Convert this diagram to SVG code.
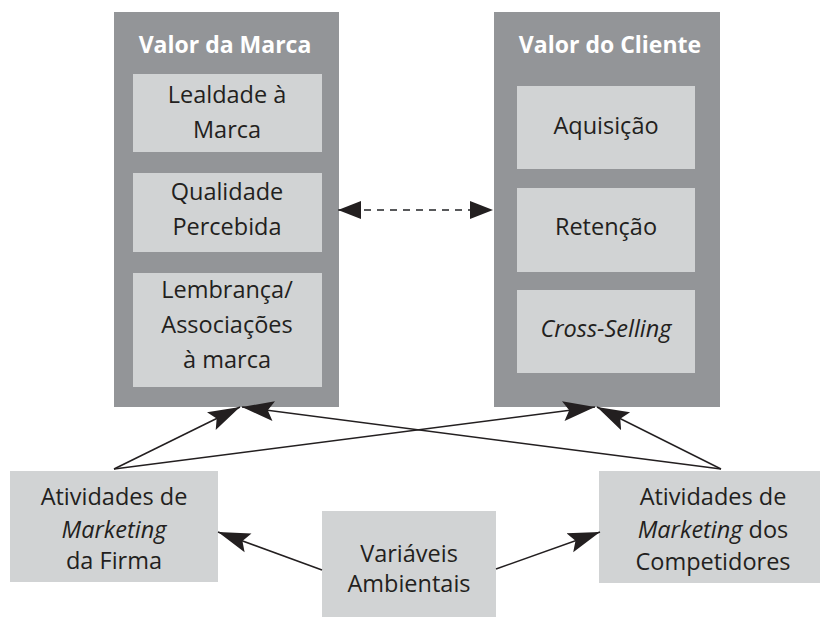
<svg xmlns="http://www.w3.org/2000/svg" width="822" height="617" viewBox="0 0 822 617">
<style>
.panel{fill:#939598}
.box{fill:#d1d3d4}
.t{font-family:"Open Sans","Lato","Liberation Sans",sans-serif;font-size:23.5px;fill:#231f20;text-anchor:middle}
.title{font-family:"Open Sans","Lato","Liberation Sans",sans-serif;font-size:23px;font-weight:bold;fill:#ffffff;text-anchor:middle}
.it{font-style:italic}
.c{stroke:#231f20;stroke-width:1.5;fill:none}
.d{stroke:#58595b;stroke-width:2;stroke-dasharray:7 6;fill:none}
</style>
<defs>
<marker id="ah" markerUnits="userSpaceOnUse" markerWidth="34" markerHeight="22" refX="32" refY="10" orient="auto" viewBox="0 0 34 20">
<path d="M0,0 L32,10 L0,20 L6,10 Z" fill="#231f20"/>
</marker>
<marker id="dh" markerUnits="userSpaceOnUse" markerWidth="24" markerHeight="18" refX="23" refY="9" orient="auto-start-reverse" viewBox="0 0 24 18">
<path d="M0,0 L23,9 L0,18 Z" fill="#231f20"/>
</marker>
</defs>

<g id="valor-marca">
<rect class="panel" x="114" y="12" width="225" height="395"/>
<text class="title" x="225" y="53">Valor da Marca</text>
<g id="lealdade">
<rect class="box" x="133" y="74" width="189" height="78"/>
<text class="t" x="227" y="103">Lealdade à</text>
<text class="t" x="227" y="138">Marca</text>
</g>
<g id="qualidade">
<rect class="box" x="133" y="173" width="189" height="79"/>
<text class="t" x="227" y="200">Qualidade</text>
<text class="t" x="227" y="235">Percebida</text>
</g>
<g id="lembranca">
<rect class="box" x="133" y="273" width="189" height="114"/>
<text class="t" x="227" y="298">Lembrança/</text>
<text class="t" x="227" y="333">Associações</text>
<text class="t" x="227" y="368">à marca</text>
</g>
</g>

<g id="valor-cliente">
<rect class="panel" x="494" y="12" width="226" height="395"/>
<text class="title" x="610" y="53">Valor do Cliente</text>
<g id="aquisicao">
<rect class="box" x="517" y="86" width="178" height="83"/>
<text class="t" x="606" y="134">Aquisição</text>
</g>
<g id="retencao">
<rect class="box" x="517" y="188" width="178" height="84"/>
<text class="t" x="606" y="235">Retenção</text>
</g>
<g id="cross-selling">
<rect class="box" x="517" y="290" width="178" height="83"/>
<text class="t it" x="606" y="337">Cross-Selling</text>
</g>
</g>

<g id="firma">
<rect class="box" x="10" y="471" width="208" height="111"/>
<text class="t" x="114" y="505">Atividades de</text>
<text class="t it" x="114" y="538">Marketing</text>
<text class="t" x="114" y="569">da Firma</text>
</g>

<g id="competidores">
<rect class="box" x="599" y="471" width="221" height="112"/>
<text class="t" x="713" y="505">Atividades de</text>
<text class="t" x="713" y="538"><tspan class="it">Marketing</tspan> dos</text>
<text class="t" x="713" y="570">Competidores</text>
</g>

<g id="ambientais">
<rect class="box" x="322" y="511" width="174" height="106"/>
<text class="t" x="409" y="562">Variáveis</text>
<text class="t" x="409" y="592">Ambientais</text>
</g>

<g id="connectors">
<line class="c" x1="114" y1="469" x2="240" y2="407" marker-end="url(#ah)"/>
<line class="c" x1="114" y1="469" x2="595" y2="407" marker-end="url(#ah)"/>
<line class="c" x1="721" y1="469" x2="242" y2="407" marker-end="url(#ah)"/>
<line class="c" x1="721" y1="469" x2="597" y2="407" marker-end="url(#ah)"/>
<line class="c" x1="322" y1="570" x2="218" y2="532" marker-end="url(#ah)"/>
<line class="c" x1="496" y1="569" x2="600" y2="532" marker-end="url(#ah)"/>
<line class="d" x1="338" y1="210" x2="493" y2="210" marker-start="url(#dh)" marker-end="url(#dh)"/>
</g>
</svg>
